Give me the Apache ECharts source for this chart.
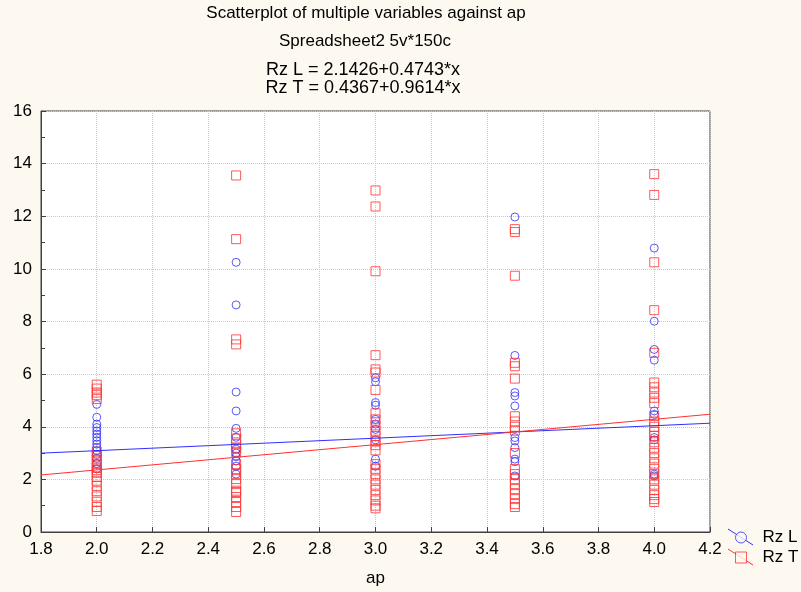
<!DOCTYPE html>
<html>
<head>
<meta charset="utf-8">
<script src="https://cdn.jsdelivr.net/npm/echarts@6/dist/echarts.min.js"></script>
<style>
html,body{margin:0;padding:0;background:#fdf9f0;}
#c{width:801px;height:592px;}
</style>
</head>
<body>
<div id="c"></div>
<script>
// ---- data ----
const apLevels = [2.0, 2.5, 3.0, 3.5, 4.0];
const rzL = [
  [4.85, 4.36, 4.1, 3.97, 3.84, 3.72, 3.6, 3.47, 3.34, 3.22, 3.1, 2.95, 2.8, 2.6, 2.4],
  [10.25, 8.63, 5.32, 4.6, 3.94, 3.6, 3.15, 3.0, 2.86, 2.7, 2.5, 2.2],
  [5.86, 5.71, 4.92, 4.82, 4.28, 4.1, 3.9, 3.5, 2.77, 2.5],
  [11.97, 6.71, 5.3, 5.17, 4.79, 3.59, 3.46, 3.21, 2.77, 2.67, 2.13],
  [10.79, 8.01, 6.94, 6.53, 4.6, 4.47, 3.59, 3.5, 2.2, 2.13]
];
const rzT = [
  [5.6, 5.45, 5.3, 5.2, 5.05, 3.05, 2.9, 2.75, 2.6, 2.45, 2.35, 2.25, 2.1, 1.95, 1.75, 1.55, 1.35, 1.15, 0.95, 0.8],
  [13.55, 11.13, 7.32, 7.13, 3.75, 3.55, 3.35, 3.2, 3.05, 2.58, 2.39, 2.2, 2.01, 1.82, 1.57, 1.52, 1.33, 1.14, 0.95, 0.76],
  [12.98, 12.37, 9.91, 6.72, 6.18, 6.06, 5.4, 4.51, 4.28, 4.05, 3.85, 3.65, 3.45, 3.3, 3.1, 2.58, 2.4, 2.2, 2.0, 1.8, 1.6, 1.4, 1.2, 1.0, 0.9],
  [11.51, 11.4, 9.74, 6.43, 6.3, 5.83, 4.4, 4.2, 4.0, 3.85, 3.0, 2.39, 2.2, 2.01, 1.82, 1.63, 1.44, 1.25, 1.06, 0.95],
  [13.6, 12.81, 10.25, 8.43, 6.81, 5.68, 5.5, 5.3, 5.1, 4.9, 4.41, 4.2, 4.0, 3.8, 3.65, 3.41, 3.2, 3.0, 2.8, 2.6, 2.4, 2.2, 2.0, 1.8, 1.6, 1.4, 1.25, 1.14]
];
const fitL = [2.1426, 0.4743];
const fitT = [0.4367, 0.9614];
const xRange = [1.8, 4.2];
const yRange = [0, 16];
const titleLines = ['Scatterplot of multiple variables against ap', 'Spreadsheet2 5v*150c'];
const eqLines = ['Rz L = 2.1426+0.4743*x', 'Rz T = 0.4367+0.9614*x'];
const seriesNames = ['Rz L', 'Rz T'];

// ---- build ----
const toPts = arr => arr.flatMap((vals, i) => vals.map(v => [apLevels[i], v]));
const fitPts = f => xRange.map(x => [x, f[0] + f[1] * x]);
const BLUE = '#2f2fff', RED = '#ff3030';
const FONT = 'Liberation Sans, Arial, sans-serif';
const tStyle = sz => ({fontSize: sz, fontWeight: 'normal', color: '#000', fontFamily: FONT});

const chart = echarts.init(document.getElementById('c'), null, {renderer: 'canvas'});
chart.setOption({
  backgroundColor: '#fdf9f0',
  animation: false,
  textStyle: {fontFamily: FONT},
  title: [
    {text: titleLines[0], left: 366, top: 5, padding: 0, textAlign: 'center', textStyle: tStyle(17)},
    {text: titleLines[1], left: 365, top: 33, padding: 0, textAlign: 'center', textStyle: tStyle(17)},
    {text: eqLines[0], left: 363, top: 61, padding: 0, textAlign: 'center', textStyle: tStyle(18)},
    {text: eqLines[1], left: 363, top: 79, padding: 0, textAlign: 'center', textStyle: tStyle(18)}
  ],
  grid: {left: 41, top: 111, right: 91, bottom: 59, show: true, backgroundColor: '#ffffff', borderColor: '#404040', borderWidth: 1},
  legend: {
    orient: 'vertical', left: 730, top: 524, itemWidth: 11, itemHeight: 11, itemGap: 3, z: 10,
    textStyle: {fontSize: 17, lineHeight: 15, color: '#000', fontFamily: FONT, padding: [0, 0, 0, 11]},
    data: [
      {name: seriesNames[0], icon: 'circle', itemStyle: {color: '#fdf9f0', borderColor: BLUE, borderWidth: 1}},
      {name: seriesNames[1], icon: 'rect', itemStyle: {color: '#fdf9f0', borderColor: RED, borderWidth: 1}}
    ]
  },
  graphic: [
    {type: 'line', z: 1, shape: {x1: 728, y1: 529, x2: 753, y2: 545}, style: {stroke: BLUE, lineWidth: 1}},
    {type: 'line', z: 1, shape: {x1: 728, y1: 549, x2: 753, y2: 565}, style: {stroke: RED, lineWidth: 1}}
  ],
  xAxis: {
    type: 'value', min: xRange[0], max: xRange[1], interval: 0.2,
    name: 'ap', nameLocation: 'middle', nameGap: 38,
    nameTextStyle: {fontSize: 17, color: '#000', fontFamily: FONT},
    axisLine: {show: true, lineStyle: {color: '#404040'}},
    axisTick: {show: true, inside: true, length: 5, lineStyle: {color: '#404040'}},
    axisLabel: {fontSize: 17, color: '#000', margin: 9, formatter: v => v.toFixed(1)},
    splitLine: {show: true, lineStyle: {color: '#c8c8c8', type: 'dotted'}}
  },
  yAxis: {
    type: 'value', min: yRange[0], max: yRange[1], interval: 2,
    axisLine: {show: true, lineStyle: {color: '#404040'}},
    axisTick: {show: true, inside: true, length: 5, lineStyle: {color: '#404040'}},
    minorTick: {show: true, splitNumber: 2, length: 4, lineStyle: {color: '#404040'}},
    axisLabel: {fontSize: 17, color: '#000', margin: 9},
    splitLine: {show: true, lineStyle: {color: '#c8c8c8', type: 'dotted'}}
  },
  series: [
    {name: seriesNames[0], type: 'scatter', symbol: 'circle', symbolSize: 8, z: 3,
     itemStyle: {color: 'rgba(0,0,0,0)', borderColor: BLUE, borderWidth: 1}, data: toPts(rzL)},
    {name: seriesNames[1], type: 'scatter', symbol: 'rect', symbolSize: 9, z: 4,
     itemStyle: {color: 'rgba(0,0,0,0)', borderColor: RED, borderWidth: 1}, data: toPts(rzT)},
    {name: 'fitL', type: 'line', showSymbol: false, silent: true, z: 5,
     lineStyle: {color: BLUE, width: 1}, data: fitPts(fitL)},
    {name: 'fitT', type: 'line', showSymbol: false, silent: true, z: 5,
     lineStyle: {color: RED, width: 1}, data: fitPts(fitT)}
  ]
});
</script>
</body>
</html>
